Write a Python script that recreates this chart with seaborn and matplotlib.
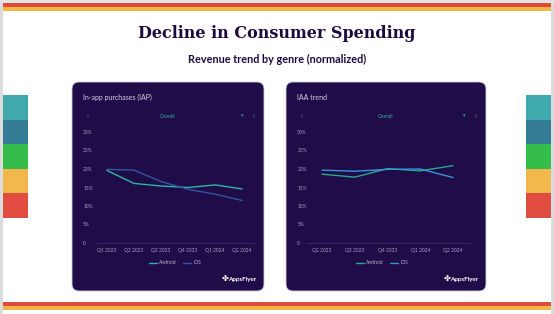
import numpy as np
import pandas as pd
import matplotlib
matplotlib.use('Agg')
import matplotlib.pyplot as plt
from matplotlib.patches import FancyBboxPatch, Rectangle
import seaborn as sns

# values (percent, normalized revenue)
iap_quarters = ['Q1 2023', 'Q2 2023', 'Q3 2023', 'Q4 2023', 'Q1 2024', 'Q2 2024']
iap_android = [19.6, 16.1, 15.4, 15.0, 15.7, 14.6]
iap_ios = [19.9, 19.7, 16.6, 14.5, 13.2, 11.5]

iaa_quarters = ['Q2 2023', 'Q3 2023', 'Q4 2023', 'Q1 2024', 'Q2 2024']
iaa_android = [18.6, 17.8, 20.1, 19.5, 20.9]
iaa_ios = [19.7, 19.4, 19.9, 20.0, 17.7]

y_ticks = [0, 5, 10, 15, 20, 25, 30]
y_labels = ['0', '5%', '10%', '15%', '20%', '25%', '30%']

sns.set_theme(style='white')
plt.rcParams['font.family'] = ['Lato', 'DejaVu Sans']

W, H = 554, 314
fig = plt.figure(figsize=(W / 100, H / 100), dpi=100)
fig.patch.set_facecolor('white')
tr = fig.dpi_scale_trans


def box(x0, y0, x1, y1, color, **kw):
    # pixel box (image coords, y down) -> inches
    r = Rectangle((x0 / 100, (H - y1) / 100), (x1 - x0) / 100, (y1 - y0) / 100,
                  transform=tr, facecolor=color, edgecolor='none', zorder=-2, **kw)
    fig.patches.append(r)


def fx(x):
    return x / W


def fy(y):
    return (H - y) / H


# outer frame and stripes
box(0, 0, 3, H, '#dcdcdc')
box(551, 0, W, H, '#dcdcdc')
box(0, 0, W, 3, '#e4e4e4')
box(3, 3, 551, 7, '#e14b3b')
box(3, 7, 551, 11, '#f3b545')
box(3, 302, 551, 306, '#e14b3b')
box(3, 306, 551, 310, '#f3b545')

side_colors = ['#3fa9ae', '#347b95', '#34bd4b', '#f2b84c', '#e04c40']
for i, c in enumerate(side_colors):
    y0 = 95 + i * 24.6
    box(3, y0, 28, y0 + 24.6, c)
    box(526, y0, 551, y0 + 24.6, c)

title_col = '#1c0a3e'
fig.text(0.5, fy(34), 'Decline in Consumer Spending', ha='center', va='center',
         fontsize=11.5, fontweight='bold', family=['DejaVu Serif'], color=title_col)
fig.text(0.5, fy(59), 'Revenue trend by genre (normalized)', ha='center', va='center',
         fontsize=7.8, fontweight='bold', color=title_col)

panel_bg = '#1f0c48'
teal = '#2cb8a2'
palettes = [{'Android': teal, 'iOS': '#2f58a3'}, {'Android': '#27a98f', 'iOS': '#3a94d8'}]

panels = [
    dict(px=(72, 264), title='In-app purchases (IAP)', ax=(97, 254), xlim=(-0.37, 5.44),
         q=iap_quarters, a=iap_android, i=iap_ios, pad=10, leg=175),
    dict(px=(286, 486), title='IAA trend', ax=(307, 470), xlim=(-0.46, 4.52),
         q=iaa_quarters, a=iaa_android, i=iaa_ios, pad=7, leg=382),
]

for k, p in enumerate(panels):
    x0, x1 = p['px']
    fig.patches.append(FancyBboxPatch((x0 / 100, (H - 291) / 100), (x1 - x0) / 100, (291 - 82) / 100,
                                      boxstyle='round,pad=0,rounding_size=0.07', transform=tr,
                                      facecolor=panel_bg, edgecolor='#cfcfd6', linewidth=0.6,
                                      zorder=-1))
    fig.text(fx(x0 + 11), fy(97), p['title'], ha='left', va='center', fontsize=5, color='#d6d2e6')
    mid = (x0 + x1) / 2
    fig.text(fx(mid), fy(116), 'Overall', ha='center', va='center', fontsize=3.5, color=teal)
    fig.text(fx(x0 + 16), fy(116), '‹', ha='center', va='center', fontsize=5, color=teal)
    fig.text(fx(x1 - 10), fy(116), '›', ha='center', va='center', fontsize=5, color=teal)
    fig.text(fx(x1 - 22), fy(116), '▾', ha='center', va='center', fontsize=3.5,
             family=['DejaVu Sans'], color=teal)
    fig.text(fx(x1 - 22), fy(280), 'AppsFlyer', ha='center', va='center', fontsize=4.5,
             fontweight='bold', color='white')
    fig.text(fx(x1 - 39), fy(279), '✤', ha='center', va='center', fontsize=6,
             family=['DejaVu Sans'], color='white')

    a0, a1 = p['ax']
    ax = fig.add_axes([fx(a0), fy(243), (a1 - a0) / W, (243 - 132) / H])
    ax.set_facecolor('none')
    df = pd.DataFrame({
        'quarter': p['q'] * 2,
        'value': p['a'] + p['i'],
        'platform': ['Android'] * len(p['q']) + ['iOS'] * len(p['q']),
    })
    sns.lineplot(data=df, x='quarter', y='value', hue='platform', palette=palettes[k],
                 sort=False, linewidth=1.0, ax=ax)
    ax.set_xlim(*p['xlim'])
    ax.set_ylim(0, 30)
    ax.set_yticks(y_ticks)
    ax.set_yticklabels(y_labels)
    ax.set_xlabel('')
    ax.set_ylabel('')
    for s in ['top', 'right', 'left']:
        ax.spines[s].set_visible(False)
    ax.spines['bottom'].set_color('#3d3070')
    ax.spines['bottom'].set_linewidth(0.6)
    ax.tick_params(axis='both', length=0, labelsize=3.5, colors='#a7a1c2')
    ax.tick_params(axis='y', pad=p['pad'])
    ax.tick_params(axis='x', pad=3.5)
    for lab in ax.get_yticklabels():
        lab.set_horizontalalignment('left')
    ax.legend(loc='center', bbox_to_anchor=(((p['leg']) - a0) / (a1 - a0), -0.18), ncol=2,
              frameon=False, fontsize=3.5, handlelength=1.6, handletextpad=0.6,
              columnspacing=1.2, labelcolor='#b8b3cf')

fig.savefig('out.png', dpi=100, facecolor='white')
